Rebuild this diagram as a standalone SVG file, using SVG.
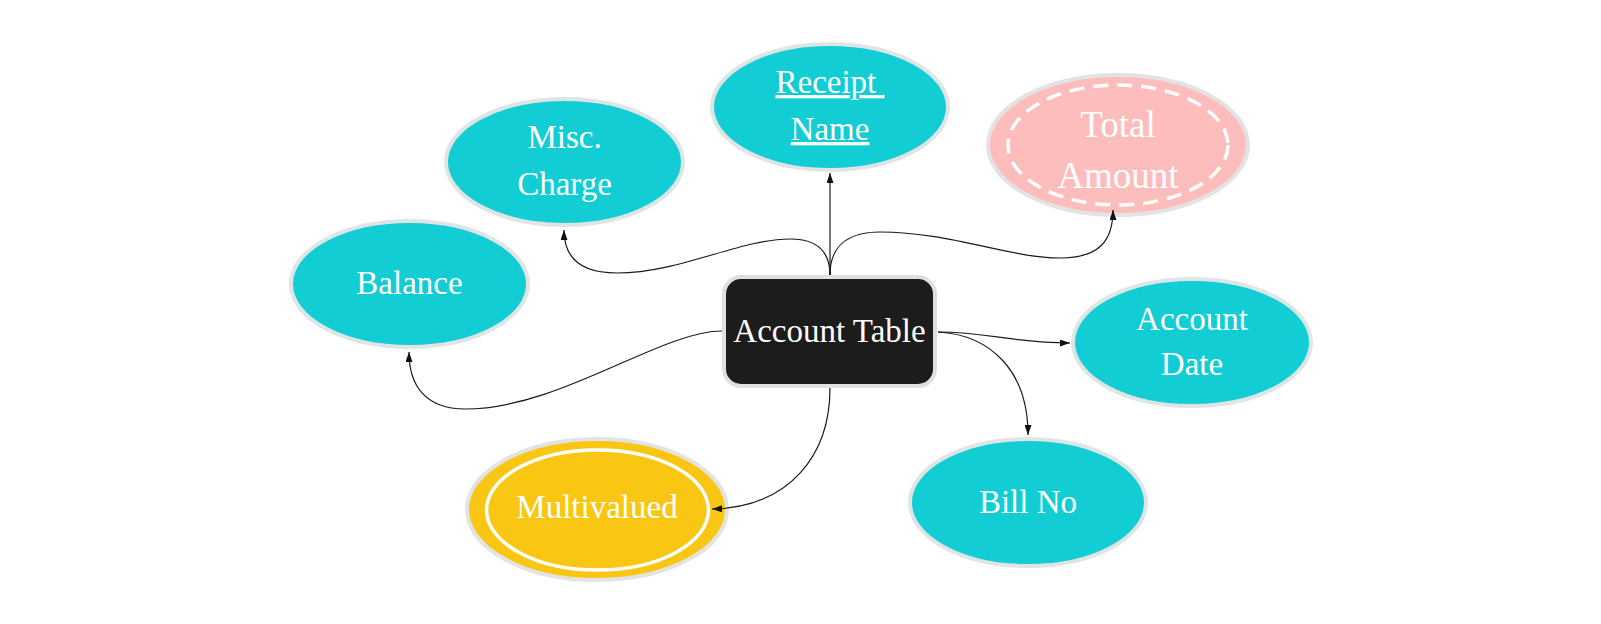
<svg xmlns="http://www.w3.org/2000/svg" width="1601" height="624" viewBox="0 0 1601 624">
<style>
.attr{fill:#13cdd4;stroke:#dfe5e5;stroke-width:4}
.t{font-family:"Liberation Serif","Times New Roman",serif;font-size:33px;fill:#ffffff;text-anchor:middle}
.edge{fill:none;stroke:#1a1a1a;stroke-width:1.2}
</style>
<defs>
<marker id="arr" viewBox="0 0 10 7" refX="10" refY="3.5" markerWidth="10" markerHeight="7" markerUnits="userSpaceOnUse" orient="auto">
<path d="M0,0 L10,3.5 L0,7 z" fill="#111"/>
</marker>
</defs>
<rect width="1601" height="624" fill="#ffffff"/>
<g id="receipt-name">
<ellipse class="attr" cx="830" cy="107" rx="118" ry="63"/>
<text class="t" x="830" y="93" text-decoration="underline" style="white-space:pre">Receipt </text>
<text class="t" x="830" y="140" text-decoration="underline">Name</text>
</g>
<g id="total-amount">
<ellipse cx="1118" cy="145" rx="130" ry="70" fill="#fdbdbd" stroke="#e3e3e3" stroke-width="4"/>
<ellipse cx="1118" cy="145" rx="110" ry="60" fill="none" stroke="#ffffff" stroke-width="3.5" stroke-dasharray="15 9"/>
<text class="t" x="1118" y="137" style="font-size:37px">Total</text>
<text class="t" x="1118" y="188" style="font-size:37px">Amount</text>
</g>
<g id="misc-charge">
<ellipse class="attr" cx="564.5" cy="162" rx="118.5" ry="63"/>
<text class="t" x="564.5" y="148">Misc.</text>
<text class="t" x="564.5" y="195">Charge</text>
</g>
<g id="balance">
<ellipse class="attr" cx="409.5" cy="284" rx="118.5" ry="63"/>
<text class="t" x="409.5" y="294">Balance</text>
</g>
<g id="account-table">
<rect x="724" y="277" width="211" height="109" rx="17" ry="17" fill="#1c1c1c" stroke="#e0e0e0" stroke-width="4"/>
<text class="t" x="829.5" y="342">Account Table</text>
</g>
<g id="account-date">
<ellipse class="attr" cx="1192" cy="342.5" rx="119" ry="63.5"/>
<text class="t" x="1192" y="330">Account</text>
<text class="t" x="1192" y="375">Date</text>
</g>
<g id="bill-no">
<ellipse class="attr" cx="1028" cy="502.5" rx="118" ry="63.5"/>
<text class="t" x="1028" y="513">Bill No</text>
</g>
<g id="multivalued">
<ellipse cx="597" cy="509.5" rx="130" ry="70.5" fill="#f9c713" stroke="#e3e3e3" stroke-width="4"/>
<ellipse cx="597.5" cy="510" rx="111" ry="60" fill="none" stroke="#ffffff" stroke-width="3.5"/>
<text class="t" x="597" y="518">Multivalued</text>
</g>
<g id="connectors">
<path class="edge" d="M830,275 L830,173" marker-end="url(#arr)"/>
<path class="edge" d="M830,275 C830,246 848,232 880,232 C950,232 1010,258 1060,258 C1100,258 1113,240 1113,210" marker-end="url(#arr)"/>
<path class="edge" d="M830,275 C830,250 815,239 790,239 C740,239 680,273 617,273 C580,273 564,258 564,230" marker-end="url(#arr)"/>
<path class="edge" d="M722,331 C660,331 560,409 465,409 C425,409 409,385 409,352" marker-end="url(#arr)"/>
<path class="edge" d="M938,332 C990,332 1010,343 1070,343" marker-end="url(#arr)"/>
<path class="edge" d="M938,332 C990,335 1028,370 1028,435" marker-end="url(#arr)"/>
<path class="edge" d="M830,388 C830,455 790,507 712,509" marker-end="url(#arr)"/>
</g>
</svg>
